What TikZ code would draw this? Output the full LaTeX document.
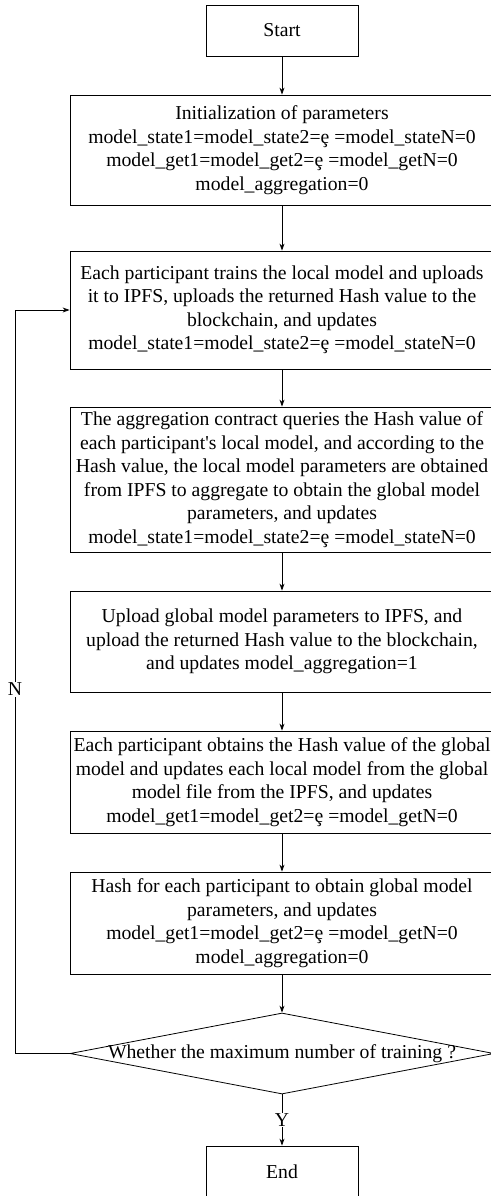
\documentclass[tikz,border=0pt]{standalone}
\usepackage{fontspec}
\setmainfont{Liberation Serif}
\usetikzlibrary{arrows.meta,shapes.geometric}
\begin{document}
\begin{tikzpicture}[x=1pt,y=-1pt,
  every node/.style={font=\fontsize{19.7}{23.5}\selectfont},
  box/.style={draw, line width=0.8pt, rectangle, inner sep=0pt, align=center},
  wide/.style={box, minimum width=424pt},
  arr/.style={draw, line width=0.8pt, -{Stealth[length=7pt,width=5pt]}},
  lbl/.style={fill=white, inner sep=1pt}
]
\useasboundingbox (0,0) rectangle (490,1196);
\node[box, minimum width=152pt, minimum height=51pt] (start) at (282,30.5) {Start};
\node[wide, minimum height=110pt] (init) at (282,150) {Initialization of parameters\\
model\_state1=model\_state2=ȩ =model\_stateN=0\\
model\_get1=model\_get2=ȩ =model\_getN=0\\
model\_aggregation=0};
\node[wide, minimum height=118pt] (train) at (282,310) {Each participant trains the local model and uploads\\
it to IPFS, uploads the returned Hash value to the\\
blockchain, and updates\\
model\_state1=model\_state2=ȩ =model\_stateN=0};
\node[wide, minimum height=145pt] (agg) at (282,479.5) {The aggregation contract queries the Hash value of\\
each participant\textquotesingle s local model, and according to the\\
Hash value, the local model parameters are obtained\\
from IPFS to aggregate to obtain the global model\\
parameters, and updates\\
model\_state1=model\_state2=ȩ =model\_stateN=0};
\node[wide, minimum height=101pt] (upload) at (282,641.5) {Upload global model parameters to IPFS, and\\
upload the returned Hash value to the blockchain,\\
and updates model\_aggregation=1};
\node[wide, minimum height=102pt] (obtain) at (282,782) {Each participant obtains the Hash value of the global\\
model and updates each local model from the global\\
model file from the IPFS, and updates\\
model\_get1=model\_get2=ȩ =model\_getN=0};
\node[wide, minimum height=102pt] (hash) at (282,923) {Hash for each participant to obtain global model\\
parameters, and updates\\
model\_get1=model\_get2=ȩ =model\_getN=0\\
model\_aggregation=0};
\node[draw, line width=0.8pt, diamond, minimum width=424pt, minimum height=81pt, inner sep=0pt,
  label={center:Whether the maximum number of training ?}] (dec) at (282,1053.5) {};
\node[box, minimum width=152pt, minimum height=70pt] (end) at (282,1181) {};
\node (endt) at (282,1172) {End};
\coordinate (lb) at (15,1053.5);
\coordinate (lt) at (15,310);
\draw[arr] (start) -- (init);
\draw[arr] (init) -- (train);
\draw[arr] (train) -- (agg);
\draw[arr] (agg) -- (upload);
\draw[arr] (upload) -- (obtain);
\draw[arr] (obtain) -- (hash);
\draw[arr] (hash) -- (dec);
\draw[arr] (dec.south) -- node[lbl, pos=0.5] {Y} (end.north);
\draw[arr] (dec.west) -- (lb) -- node[lbl, pos=0.49] {N} (lt) -- (train.west);
\end{tikzpicture}
\end{document}
